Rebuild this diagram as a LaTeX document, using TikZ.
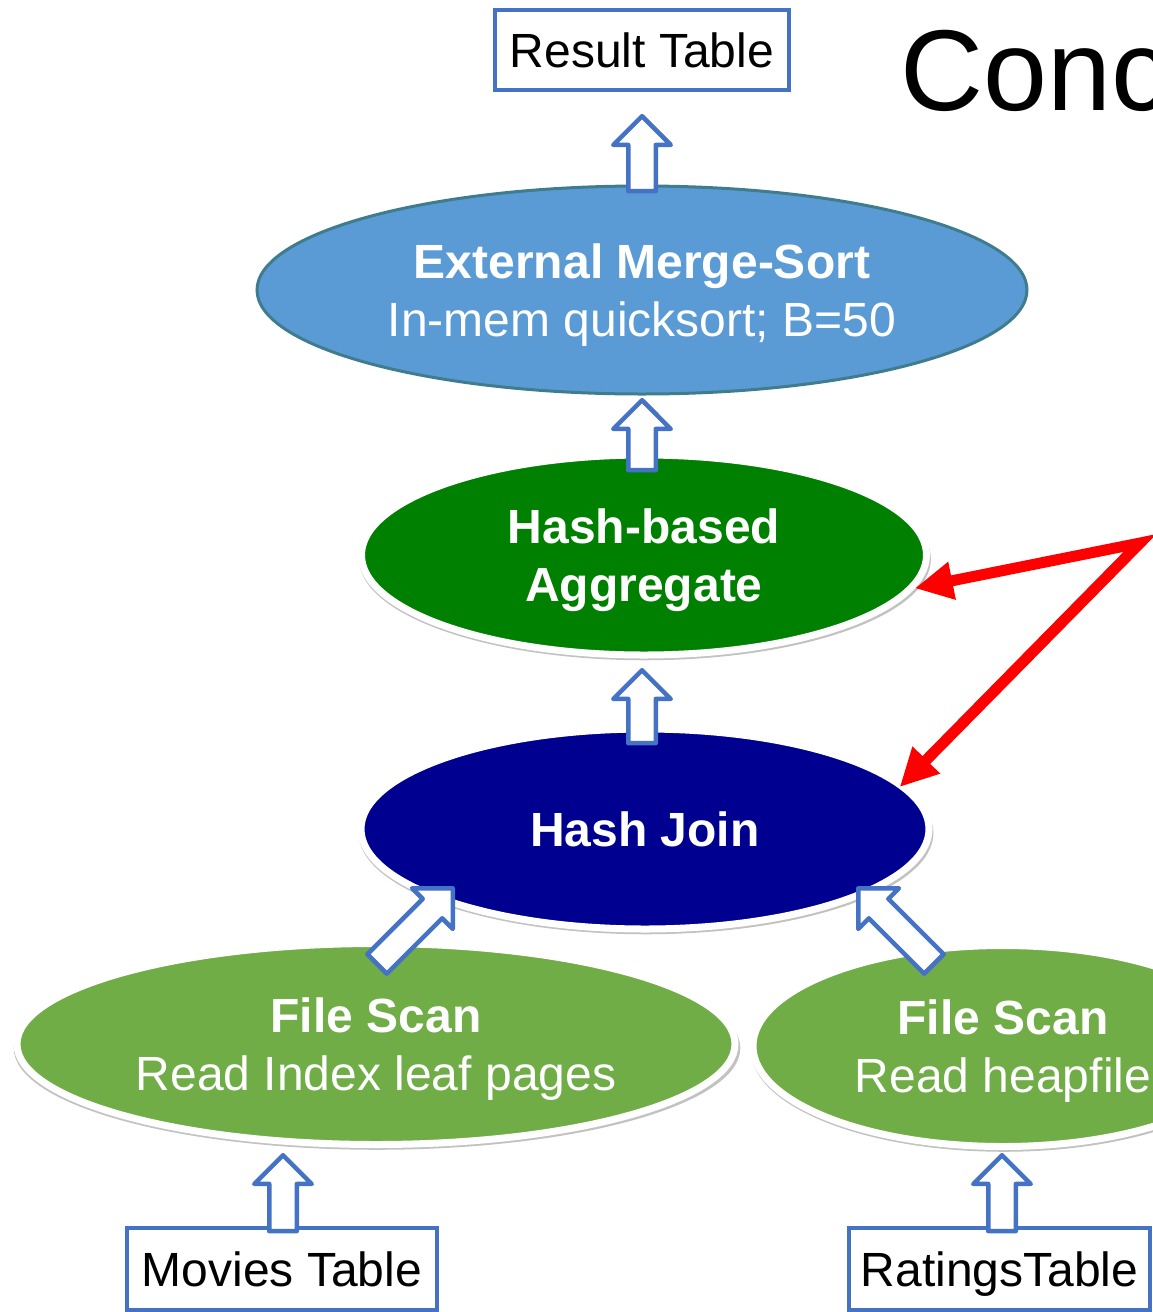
\documentclass[tikz,border=0pt]{standalone}
\usepackage{fontspec}
\setmainfont{Liberation Sans}
\usetikzlibrary{shapes.geometric,shapes.arrows,arrows.meta,shadows}
\definecolor{sortfill}{HTML}{5B9BD5}
\definecolor{sortline}{HTML}{3E7C8E}
\definecolor{aggfill}{HTML}{008000}
\definecolor{joinfill}{HTML}{000090}
\definecolor{scanfill}{HTML}{70AD47}
\definecolor{boxblue}{HTML}{4472C4}
\newcommand{\topstrut}{\rule{0pt}{45pt}}
\begin{document}
\begin{tikzpicture}[x=1pt,y=-1pt,
  lbl/.style={font=\fontsize{48}{58}\selectfont, align=center, text=white},
  op/.style={ellipse, inner sep=0pt, lbl},
  whiteop/.style={op, draw=white, line width=7pt,
    drop shadow={shadow xshift=1pt, shadow yshift=-4pt, shadow scale=1.012, opacity=0.4, fill=black!60}},
  tbl/.style={draw=boxblue, line width=3.5pt, fill=white, inner sep=0pt, text depth=0pt,
    font=\fontsize{48}{58}\selectfont},
  blk/.style={single arrow, draw=boxblue, fill=white, line width=4.5pt,
    single arrow tip angle=90, single arrow head extend=15pt,
    inner xsep=0pt, inner ysep=11.5pt, line join=round, anchor=tip},
  redarr/.style={draw=red, line width=11pt, line join=miter,
    {Triangle[length=38pt,width=36pt]}-{Triangle[length=38pt,width=36pt]}}
]
\useasboundingbox (0,0) rectangle (1153,1312);
\clip (0,0) rectangle (1153,1312);

% title (cut off at the right edge)
\node[font=\fontsize{115}{120}\selectfont, anchor=base west, inner sep=0pt] (title) at (900,110) {Conc};

% operators
\node[op, fill=sortfill, draw=sortline, line width=3pt, minimum width=770pt, minimum height=208pt] (sort) at (642,290)
  {\topstrut\textbf{External Merge-Sort}\\In-mem quicksort; B=50};
\node[whiteop, fill=aggfill, minimum width=565pt, minimum height=200pt] (agg) at (644,555)
  {\topstrut\textbf{Hash-based}\\\textbf{Aggregate}};
\node[whiteop, fill=joinfill, minimum width=568pt, minimum height=200pt] (join) at (645,829)
  {\textbf{Hash Join}};
\node[whiteop, fill=scanfill, minimum width=718pt, minimum height=201pt] (scanl) at (376,1044)
  {\topstrut\textbf{File Scan}\\Read Index leaf pages};
\node[whiteop, fill=scanfill, minimum width=500pt, minimum height=201pt] (scanr) at (1003,1046)
  {\topstrut\textbf{File Scan}\\Read heapfile};

% tables
\node[tbl, minimum width=294pt, minimum height=80pt] (result) at (642,50) {Result Table};
\node[tbl, minimum width=310pt, minimum height=82pt] (movies) at (282,1269) {Movies Table};
\node[tbl, minimum width=301pt, minimum height=82pt] (ratings) at (999.5,1269) {RatingsTable};

% block arrows
\node[blk, minimum height=75pt, rotate=90] (a1) at (642,113) {};
\node[blk, minimum height=70pt, rotate=90] (a2) at (642,397) {};
\node[blk, minimum height=73pt, rotate=90] (a3) at (642,667) {};
\node[blk, minimum height=107pt, rotate=45] (a4) at (455,886) {};
\node[blk, minimum height=107pt, rotate=135] (a5) at (856,886) {};
\node[blk, minimum height=76pt, rotate=90] (a6) at (283,1152) {};
\node[blk, minimum height=76pt, rotate=90] (a7) at (1002,1152) {};

% red pointer arrows
\coordinate (rp) at (1140,543);
\draw[redarr, shorten >=-5pt] (agg.-7) -- (rp) -- (join.10);
\end{tikzpicture}
\end{document}
